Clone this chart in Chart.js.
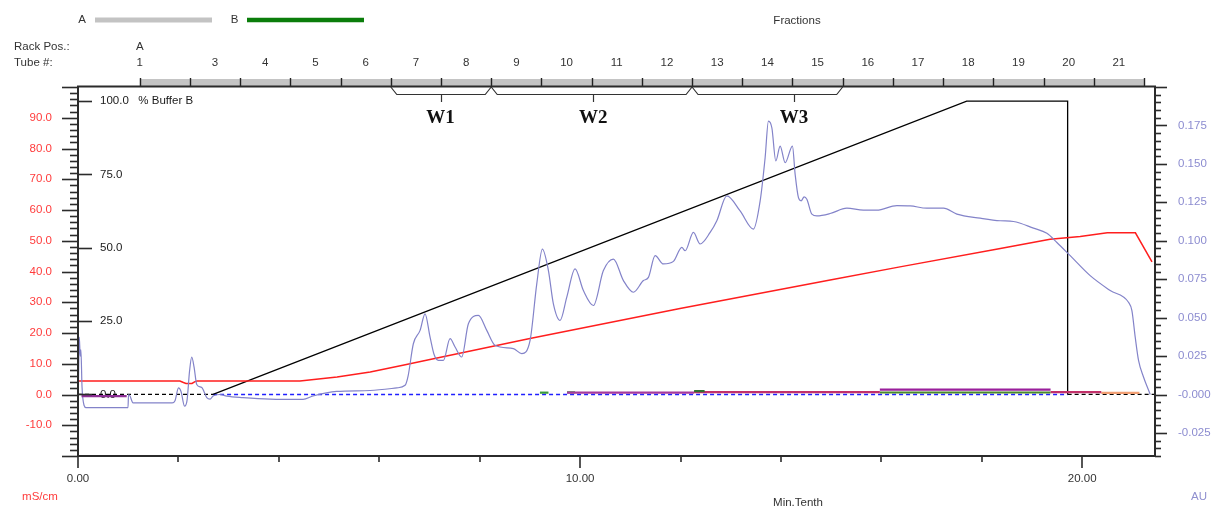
<!DOCTYPE html>
<html><head><meta charset="utf-8">
<script src="https://cdn.jsdelivr.net/npm/chart.js@4.4.0/dist/chart.umd.min.js"></script>
<style>html,body{margin:0;padding:0;background:#fff;overflow:hidden}canvas{display:block}</style>
</head><body>
<canvas id="c" width="1214" height="510"></canvas>
<script>
// ---- data (x in Min.Tenth) ----
const uvX = [0.006,0.026,0.044,0.058,0.08,0.12,0.16,0.996,1.006,1.036,1.096,1.873,1.932,2.002,2.052,2.122,2.171,2.221,2.265,2.311,2.365,2.464,2.564,2.63,2.69,2.829,2.962,3.287,3.825,4.482,4.681,5.153,5.817,6.349,6.514,6.574,6.679,6.813,6.912,7.012,7.092,7.177,7.277,7.41,7.51,7.643,7.775,7.974,8.141,8.307,8.671,8.839,9.004,9.137,9.249,9.369,9.468,9.602,9.735,9.9,10.066,10.265,10.464,10.663,10.863,11.062,11.261,11.361,11.494,11.659,11.859,12.026,12.092,12.257,12.39,12.59,12.723,12.922,13.187,13.452,13.586,13.685,13.751,13.819,13.898,13.984,14.084,14.229,14.283,14.349,14.402,14.462,14.516,14.616,14.715,14.98,15.313,15.643,15.91,16.309,16.574,16.906,17.237,17.504,17.968,18.367,18.631,19.03,19.297,19.496,19.761,20.159,20.558,20.922,20.99,21.056,21.122,21.221,21.355];
const uvAU = [0,0.0373,0.025,0.029,0.005,-0.007,-0.0085,-0.0085,0,-0.001,-0.0055,-0.0055,-0.004,0.0043,0.002,-0.0076,-0.004,0.015,0.0244,0.018,0.0065,0.0045,-0.002,-0.003,-0.001,0,-0.001,-0.002,-0.003,-0.0032,-0.001,0.002,0.0026,0.0043,0.006,0.012,0.033,0.0417,0.0525,0.0373,0.026,0.0222,0.0222,0.0363,0.0309,0.0244,0.046,0.0514,0.0417,0.032,0.0298,0.0266,0.0352,0.072,0.0946,0.0806,0.059,0.0482,0.0633,0.0817,0.0676,0.0579,0.0806,0.0881,0.0741,0.0665,0.0741,0.0762,0.0903,0.0849,0.0866,0.0957,0.0935,0.1054,0.0979,0.1054,0.113,0.1292,0.1194,0.1076,0.1259,0.154,0.1778,0.1735,0.1519,0.1616,0.1508,0.1616,0.1432,0.128,0.126,0.1285,0.127,0.1173,0.1162,0.1177,0.1212,0.1199,0.1199,0.1229,0.1227,0.1212,0.1212,0.1173,0.1147,0.113,0.1125,0.1082,0.1048,0.0989,0.0903,0.0773,0.0676,0.06,0.0546,0.0373,0.0222,0.0114,0];

const condX = [0,2.03,2.1,2.15,2.27,2.33,2.37,4.42,5.16,5.82,6.47,7.01,9.0,11.99,14.98,16.37,18.37,19.36,19.96,20.5,21.06,21.39];
const condMS = [4.4,4.4,3.9,3.6,3.6,4.2,4.4,4.4,5.7,7.35,9.5,11.4,18.2,28.0,37.2,41.5,47.5,50.5,51.4,52.6,52.6,43.1];

const bufferX = [2.69,17.70,19.71,19.71];
const bufferB = [0,100,100,0];

const zeroBlackX = [0,2.69,10,19.71,21.45];
const zeroBlackY = [0,0,null,0,0];
const zeroBlueX = [2.69,19.71];
const zeroBlueY = [0,0];

// fraction marker traces (AU)
const markStart = [0.07,9.20,9.74,9.74,12.27,12.27,15.97,15.97,19.37,20.38];
const markEnd   = [0.97,9.37,12.27,9.90,12.48,15.97,19.37,19.37,20.38,21.14];
const markLevel = [-0.001,0.0012,0.0012,0.0014,0.0022,0.0016,0.0032,0.0013,0.0016,0.0010];

// fractions
const fractionEdges = [1.23,2.23,3.23,4.23,5.23,6.23,7.23,8.23,9.23,10.23,11.23,12.23,13.23,14.23,15.23,16.23,17.23,18.23,19.23,20.23,21.23];
const tubeLabels = ['1','3','4','5','6','7','8','9','10','11','12','13','14','15','16','17','18','19','20','21'];
const tubeLabelX = [1.23,2.73,3.73,4.73,5.73,6.73,7.73,8.73,9.73,10.73,11.73,12.73,13.73,14.73,15.73,16.73,17.73,18.73,19.73,20.73];
const poolNames = ['W1','W2','W3'];
const poolStart = [6.23,8.23,12.23];
const poolEnd = [8.23,12.23,15.23];
const poolMark = [7.22,10.26,14.26];

// tick labels
const xTicks = [0,10,20];
const condTicks = [-10,0,10,20,30,40,50,60,70,80,90];
const bufferTicks = [0,25,50,75,100];
const auTicks = [-0.025,0,0.025,0.05,0.075,0.1,0.125,0.15,0.175];

// ---- build ----
const pts = (xs, ys) => xs.map((x,i)=>({x, y: ys[i]}));
const FONT = "'Liberation Sans Narrow','Arial Narrow','Liberation Sans',Arial,sans-serif";
const FS = 11.5;
const markColors = ['#8e2f96','#3a9a3a','#a63a9c','#3a9a3a','#2f6e2f','#c2306a','#9a1f9c','#4b8a2a','#c2306a','#f2a074'];

const datasets = [];
markStart.forEach((s,i)=>{
  datasets.push({data: pts([s, markEnd[i]], [markLevel[i], markLevel[i]]), yAxisID:'yAU',
    borderColor: markColors[i], borderWidth: 2.2, pointRadius:0, order: 1});
});
datasets.push({data: pts(uvX, uvAU), yAxisID:'yAU', borderColor:'#8383c9', borderWidth:1.2, pointRadius:0,
  cubicInterpolationMode:'monotone', order:2});
datasets.push({data: pts(condX, condMS), yAxisID:'yCond', borderColor:'#ff1e1e', borderWidth:1.5, pointRadius:0, order:3});
datasets.push({data: pts(bufferX, bufferB), yAxisID:'yB', borderColor:'#000', borderWidth:1.3, pointRadius:0, order:4});
datasets.push({data: pts(zeroBlueX, zeroBlueY), yAxisID:'yB', borderColor:'#1f1fff', borderWidth:1.5, borderDash:[4,3], pointRadius:0, order:5});
datasets.push({data: pts(zeroBlackX, zeroBlackY), yAxisID:'yB', borderColor:'#000', borderWidth:1.3, borderDash:[4,3], pointRadius:0, spanGaps:false, order:6});

function line(ctx,x1,y1,x2,y2){ctx.beginPath();ctx.moveTo(x1,y1);ctx.lineTo(x2,y2);ctx.stroke();}

const deco = {
  id:'deco',
  afterDraw(chart){
    const {ctx, chartArea:a, scales} = chart;
    const xs = scales.x, yc = scales.yCond, yb = scales.yB, ya = scales.yAU;
    ctx.save();
    // fraction bar
    const fx0 = xs.getPixelForValue(fractionEdges[0]);
    const fx1 = xs.getPixelForValue(fractionEdges[fractionEdges.length-1]);
    ctx.fillStyle = '#c4c4c4';
    ctx.fillRect(fx0, a.top-8, fx1-fx0, 7);
    ctx.strokeStyle = '#222'; ctx.lineWidth = 1.4;
    fractionEdges.forEach(v=>{const p=Math.round(xs.getPixelForValue(v))+0.5; line(ctx,p,a.top-9,p,a.top);});
    // frame
    ctx.strokeStyle = '#2b2b2b'; ctx.lineWidth = 2;
    ctx.strokeRect(a.left, a.top-0.5, a.right-a.left, a.bottom-a.top+0.5);
    // x ticks
    ctx.lineWidth = 1.6;
    for (let v=0; v<=xs.max; v+=2){
      const p = Math.round(xs.getPixelForValue(v));
      line(ctx,p,a.bottom,p,a.bottom + (v%10===0?12:6));
    }
    // left conductivity ticks
    for (let v=-20; v<=100; v+=2){
      const p = Math.round(yc.getPixelForValue(v))+0.5;
      line(ctx, a.left - (v%10===0?16:8), p, a.left, p);
    }
    // %B ticks (inside)
    bufferTicks.forEach(v=>{const p=Math.round(yb.getPixelForValue(v))+0.5; line(ctx,a.left,p,a.left+14,p);});
    // right AU ticks
    for (let k=-8; k<=40; k++){
      const v = k*0.005;
      const p = Math.round(ya.getPixelForValue(v))+0.5;
      line(ctx, a.right, p, a.right + (k%5===0?12:6), p);
    }
    // pool brackets
    ctx.lineWidth = 1.2; ctx.strokeStyle = '#333';
    poolStart.forEach((s,i)=>{
      const x0 = xs.getPixelForValue(s), x1 = xs.getPixelForValue(poolEnd[i]);
      ctx.beginPath(); ctx.moveTo(x0, a.top); ctx.lineTo(x0+6, a.top+7.5); ctx.lineTo(x1-6, a.top+7.5); ctx.lineTo(x1, a.top); ctx.stroke();
      const m = Math.round(xs.getPixelForValue(poolMark[i]))+0.5;
      line(ctx, m, a.top+7.5, m, a.top+15);
    });
    ctx.fillStyle = '#111'; ctx.font = "bold 19px 'Liberation Serif','Times New Roman',serif";
    ctx.textAlign = 'center'; ctx.textBaseline = 'middle';
    poolNames.forEach((n,i)=>{ctx.fillText(n, xs.getPixelForValue(poolMark[i]), a.top+31);});
    // tube labels
    ctx.font = FS + 'px ' + FONT; ctx.fillStyle = '#333';
    tubeLabels.forEach((t,i)=>{ctx.fillText(t, xs.getPixelForValue(tubeLabelX[i]), 63);});
    ctx.fillText('A', xs.getPixelForValue(tubeLabelX[0]), 47);
    ctx.textAlign = 'left';
    ctx.fillText('Rack Pos.:', 14, 47);
    ctx.fillText('Tube #:', 14, 63);
    // header legend
    ctx.textAlign = 'center';
    ctx.fillText('A', 82, 20);
    ctx.fillText('B', 234.5, 20);
    ctx.fillText('Fractions', 797, 21);
    ctx.lineWidth = 5; ctx.strokeStyle = '#c3c3c3'; line(ctx, 95, 20, 212, 20);
    ctx.lineWidth = 4.5; ctx.strokeStyle = '#0a7d0a'; line(ctx, 247, 20, 364, 20);
    // axis titles
    ctx.fillStyle = '#ff3b3b'; ctx.fillText('mS/cm', 40, 497);
    ctx.fillStyle = '#333'; ctx.fillText('Min.Tenth', 798, 503);
    ctx.fillStyle = '#9090d0'; ctx.fillText('AU', 1199, 497);
    ctx.restore();
  }
};

new Chart(document.getElementById('c'), {
  type:'line',
  data:{datasets},
  options:{
    responsive:false, animation:false, devicePixelRatio:1,
    layout:{padding:{top:87,left:0,right:0,bottom:0}},
    plugins:{legend:{display:false}, tooltip:{enabled:false}},
    elements:{point:{radius:0}, line:{tension:0}},
    scales:{
      x:{type:'linear', position:'bottom', min:0, max:21.45,
         grid:{display:false}, border:{display:false},
         afterBuildTicks:s=>{s.ticks = xTicks.map(v=>({value:v}));},
         afterFit:s=>{s.height = 54;},
         ticks:{padding:8, color:'#333', autoSkip:false, maxRotation:0, font:{family:FONT, size:FS},
                callback:v=>Number(v).toFixed(2)}},
      yCond:{type:'linear', position:'left', weight:1, min:-20, max:100,
         grid:{display:false}, border:{display:false},
         afterBuildTicks:s=>{s.ticks = condTicks.map(v=>({value:v}));},
         afterFit:s=>{s.width = 78;},
         ticks:{padding:18, color:'#ff3b3b', autoSkip:false, font:{family:FONT, size:FS},
                callback:v=>Number(v).toFixed(1)}},
      yB:{type:'linear', position:'left', weight:0, min:-21.0, max:104.8,
         grid:{display:false}, border:{display:false},
         afterBuildTicks:s=>{s.ticks = bufferTicks.map(v=>({value:v}));},
         afterFit:s=>{s.width = 0;},
         ticks:{mirror:true, padding:22, color:'#1a1a1a', autoSkip:false, font:{family:FONT, size:FS},
                callback:v=> v===100 ? '100.0   % Buffer B' : Number(v).toFixed(1)}},
      yAU:{type:'linear', position:'right', min:-0.04, max:0.2,
         grid:{display:false}, border:{display:false},
         afterBuildTicks:s=>{s.ticks = auTicks.map(v=>({value:v}));},
         afterFit:s=>{s.width = 59;},
         ticks:{padding:15, color:'#8c8cd0', autoSkip:false, font:{family:FONT, size:FS},
                callback:v=> Math.abs(v)<1e-9 ? '-0.000' : Number(v).toFixed(3)}}
    }
  },
  plugins:[deco]
});
</script>
</body></html>
